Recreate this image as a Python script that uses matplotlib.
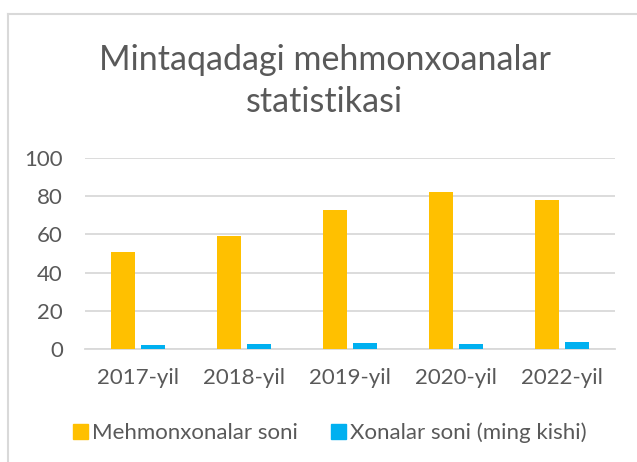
import matplotlib
matplotlib.use('Agg')
from matplotlib import pyplot as plt
from matplotlib.lines import Line2D
from matplotlib.patches import Patch
import numpy as np

years = ['2017-yil', '2018-yil', '2019-yil', '2020-yil', '2022-yil']
mehmonxonalar = [51, 59, 73, 82, 78]
xonalar = [2.1, 2.5, 3.0, 2.7, 3.6]
yticks = [0, 20, 40, 60, 80, 100]

orange = '#FFC000'
blue = '#00B0F0'
txt = '#595959'
grid = '#D9D9D9'

plt.rcParams['font.family'] = ['Lato', 'DejaVu Sans']

fig = plt.figure(figsize=(6.37, 4.62), dpi=100)
ax = fig.add_axes([0.1334, 0.2446, 0.832, 0.4134])

x = np.arange(len(years))
w = 0.225
gap = 0.06
ax.bar(x - (w + gap) / 2, mehmonxonalar, w, color=orange, zorder=3)
ax.bar(x + (w + gap) / 2, xonalar, w, color=blue, zorder=3)

ax.set_xlim(-0.5, len(years) - 0.5)
ax.set_ylim(0, 100)
ax.set_yticks(yticks)
ax.set_xticks(x)
ax.set_xticklabels(years)
ax.yaxis.grid(True, color=grid, linewidth=1.3, zorder=0)
ax.tick_params(length=0, labelsize=16, labelcolor=txt)
ax.tick_params(axis='x', pad=14)
ax.tick_params(axis='y', pad=16)
for s in ['top', 'right', 'left']:
    ax.spines[s].set_visible(False)
ax.spines['bottom'].set_color(grid)
ax.spines['bottom'].set_linewidth(1.3)

fig.text(0.51, 1 - 70 / 462, 'Mintaqadagi mehmonxoanalar', ha='center', va='baseline',
         fontsize=24.5, color=txt)
fig.text(0.51, 1 - 112 / 462, 'statistikasi', ha='center', va='baseline',
         fontsize=24.5, color=txt)

handles = [Patch(color=orange), Patch(color=blue)]
fig.legend(handles, ['Mehmonxonalar soni', 'Xonalar soni (ming kishi)'],
           loc='center', bbox_to_anchor=(0.518, 0.063), ncol=2, frameon=False,
           fontsize=16, labelcolor=txt, handlelength=0.65, handleheight=0.65,
           handletextpad=0.2, columnspacing=1.5, borderpad=0)

# light chart border (left and top only visible)
fig.add_artist(Line2D([7.5 / 637, 7.5 / 637], [0, 1 - 13.5 / 462], color=grid, linewidth=1.5))
fig.add_artist(Line2D([7.5 / 637, 1], [1 - 13.5 / 462, 1 - 13.5 / 462], color=grid, linewidth=1.5))

fig.savefig('out.png', dpi=100)
